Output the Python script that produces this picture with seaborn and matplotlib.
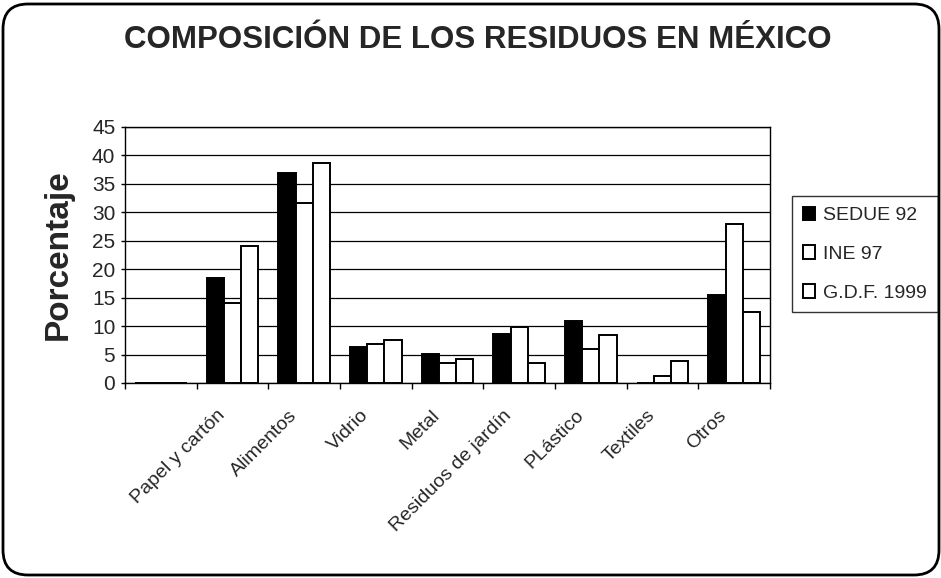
import matplotlib
matplotlib.use("Agg")
import matplotlib.pyplot as plt
import matplotlib.transforms as mtransforms
from matplotlib.patches import FancyBboxPatch
import pandas as pd
import seaborn as sns

# slot 1 of the original chart is an empty category
categories = ["", "Papel y cartón", "Alimentos", "Vidrio", "Metal",
              "Residuos de jardín", "PLástico", "Textiles", "Otros"]
series = ["SEDUE 92", "INE 97", "G.D.F. 1999"]
sedue_92 = [0, 18.4, 37.0, 6.3, 5.1, 8.6, 10.9, 0, 15.4]
ine_97 = [0, 14.1, 31.6, 6.8, 3.5, 9.9, 6.0, 1.3, 27.9]
gdf_1999 = [0, 24.0, 38.7, 7.6, 4.2, 3.5, 8.4, 3.9, 12.4]
y_ticks = [0, 5, 10, 15, 20, 25, 30, 35, 40, 45]

df = pd.DataFrame({
    "categoria": categories * 3,
    "fuente": [series[0]] * 9 + [series[1]] * 9 + [series[2]] * 9,
    "porcentaje": sedue_92 + ine_97 + gdf_1999,
})

sns.set_theme(style="white")
plt.rcParams["font.family"] = ["Liberation Sans", "DejaVu Sans"]

fig = plt.figure(figsize=(9.41, 5.78), dpi=100)
fig.patch.set_facecolor("white")
ax = fig.add_axes([125 / 941, 1 - 383 / 578, 645 / 941, 256 / 578])

sns.barplot(data=df, x="categoria", y="porcentaje", hue="fuente",
            order=categories, hue_order=series,
            palette=["black", "white", "white"], width=0.72,
            edgecolor="black", linewidth=1.4, saturation=1, ax=ax)

ax.set_ylim(0, 45)
ax.set_xlim(-0.5, len(categories) - 0.5)
ax.set_yticks(y_ticks)
ax.yaxis.grid(True, color="black", linewidth=0.9)
ax.set_axisbelow(True)
for side in ["left", "right", "top", "bottom"]:
    ax.spines[side].set_visible(True)
    ax.spines[side].set_color("black")
    ax.spines[side].set_linewidth(1.0)

ax.tick_params(axis="y", direction="out", length=3, width=1, color="black",
               labelsize=15, pad=4, left=True)
ax.set_xticks(range(len(categories)))
ax.set_xticks([i - 0.5 for i in range(len(categories) + 1)], minor=True)
ax.tick_params(axis="x", which="major", length=0, labelsize=14, pad=17)
ax.tick_params(axis="x", which="minor", direction="out", length=4, width=1,
               color="black", bottom=True)
ax.set_xticklabels(categories, rotation=45, ha="right", rotation_mode="anchor")
shift = mtransforms.ScaledTranslation(-16 / 100, 0, fig.dpi_scale_trans)
for lab in ax.get_xticklabels():
    lab.set_transform(lab.get_transform() + shift)

ax.set_xlabel("")
ax.set_ylabel("Porcentaje", fontsize=24, fontweight="bold", labelpad=13)

fig.text(478 / 941, 1 - 40 / 578, "COMPOSICIÓN DE LOS RESIDUOS EN MÉXICO",
         ha="center", va="center", fontsize=22.5, fontweight="bold")

handles, labels = ax.get_legend_handles_labels()
ax.legend(handles, labels, loc="upper left",
          bbox_to_anchor=(792 / 941, 1 - 196 / 578), bbox_transform=fig.transFigure,
          borderaxespad=0, frameon=True, fancybox=False, edgecolor="black",
          fontsize=14, handlelength=0.65, handleheight=0.7, handletextpad=0.4,
          labelspacing=1.08, borderpad=0.55)
ax.get_legend().get_frame().set_linewidth(1.0)

frame = FancyBboxPatch((0.03, 0.03), 9.36, 5.71,
                       boxstyle="round,pad=0,rounding_size=0.25",
                       transform=fig.dpi_scale_trans, facecolor="none",
                       edgecolor="black", linewidth=2)
fig.patches.append(frame)

plt.savefig("out.png", dpi=100)
